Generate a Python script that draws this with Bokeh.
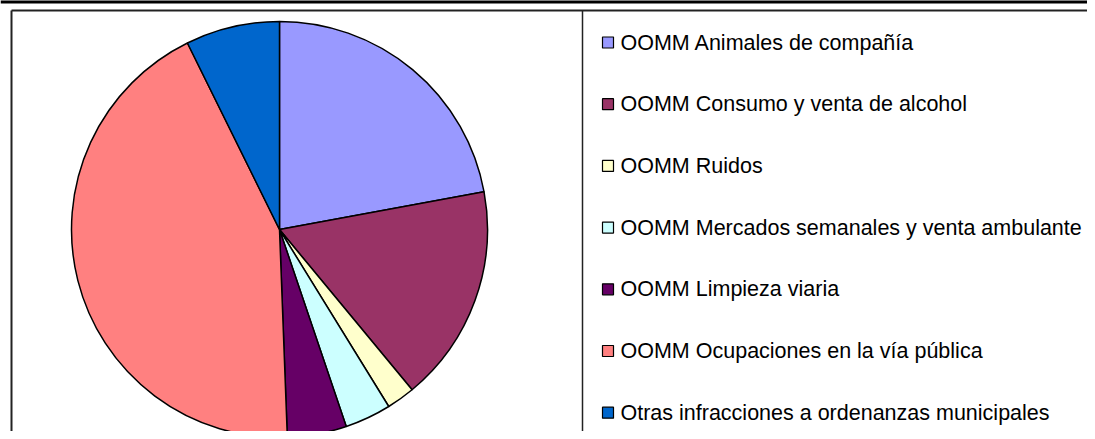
import numpy as np
from bokeh.plotting import figure
from bokeh.models import Range1d, ColumnDataSource
from bokeh.core.properties import value
from bokeh.embed import file_html
from bokeh.resources import INLINE

categories = [
    "OOMM Animales de compañía",
    "OOMM Consumo y venta de alcohol",
    "OOMM Ruidos",
    "OOMM Mercados semanales y venta ambulante",
    "OOMM Limpieza viaria",
    "OOMM Ocupaciones en la vía pública",
    "Otras infracciones a ordenanzas municipales",
]
shares = [22.1, 16.9, 2.2, 3.6, 4.6, 43.3, 7.3]
colors = ["#9999FF", "#993366", "#FFFFCC", "#CCFFFF", "#660066", "#FF8080", "#0066CC"]

OX, OY = 0, 0
W, H = 1087, 431
p = figure(width=W, height=H, output_backend="svg", toolbar_location=None,
           x_range=Range1d(OX, OX + W), y_range=Range1d(0, H), min_border=0,
           tools="")
p.xaxis.visible = False
p.yaxis.visible = False
p.grid.visible = False
p.outline_line_color = None
p.background_fill_color = "white"
p.border_fill_color = "white"

def Y(y):
    return H - (y - OY)

# top band and chart frame
p.quad(left=[0], right=[1100], bottom=[Y(3)], top=[Y(-2)], fill_color="black", line_color=None)
p.line([11, 1100], [Y(10), Y(10)], line_color="#222222", line_width=2)
p.line([11, 11], [Y(10), Y(450)], line_color="#222222", line_width=2)
p.line([582, 582], [Y(10), Y(450)], line_color="#222222", line_width=1.5)

# pie
vals = np.array(shares, dtype=float)
frac = vals / vals.sum()
cum = np.concatenate([[0], np.cumsum(frac)])
start = np.pi / 2 - cum[1:] * 2 * np.pi
end = np.pi / 2 - cum[:-1] * 2 * np.pi
src = ColumnDataSource(dict(start=start, end=end, color=colors))
cx, cy, r = 279, Y(229), 208
p.wedge(x=cx, y=cy, radius=r, start_angle="start", end_angle="end",
        fill_color="color", line_color="black", line_width=1.5, source=src)

# legend
n = len(categories)
ly = [Y(42 + i * 61.7) for i in range(n)]
lsrc = ColumnDataSource(dict(x=[607.5] * n, tx=[620] * n, y=ly, color=colors, label=categories))
p.rect(x="x", y="y", width=11, height=11, fill_color="color", line_color="black",
       line_width=1.2, source=lsrc)
p.text(x="tx", y="y", text="label", text_font=value("Liberation Sans"),
       text_font_size="21.5px", text_baseline="middle", text_align="left",
       text_color="black", source=lsrc)

open("out.html", "w").write(file_html(p, INLINE))
